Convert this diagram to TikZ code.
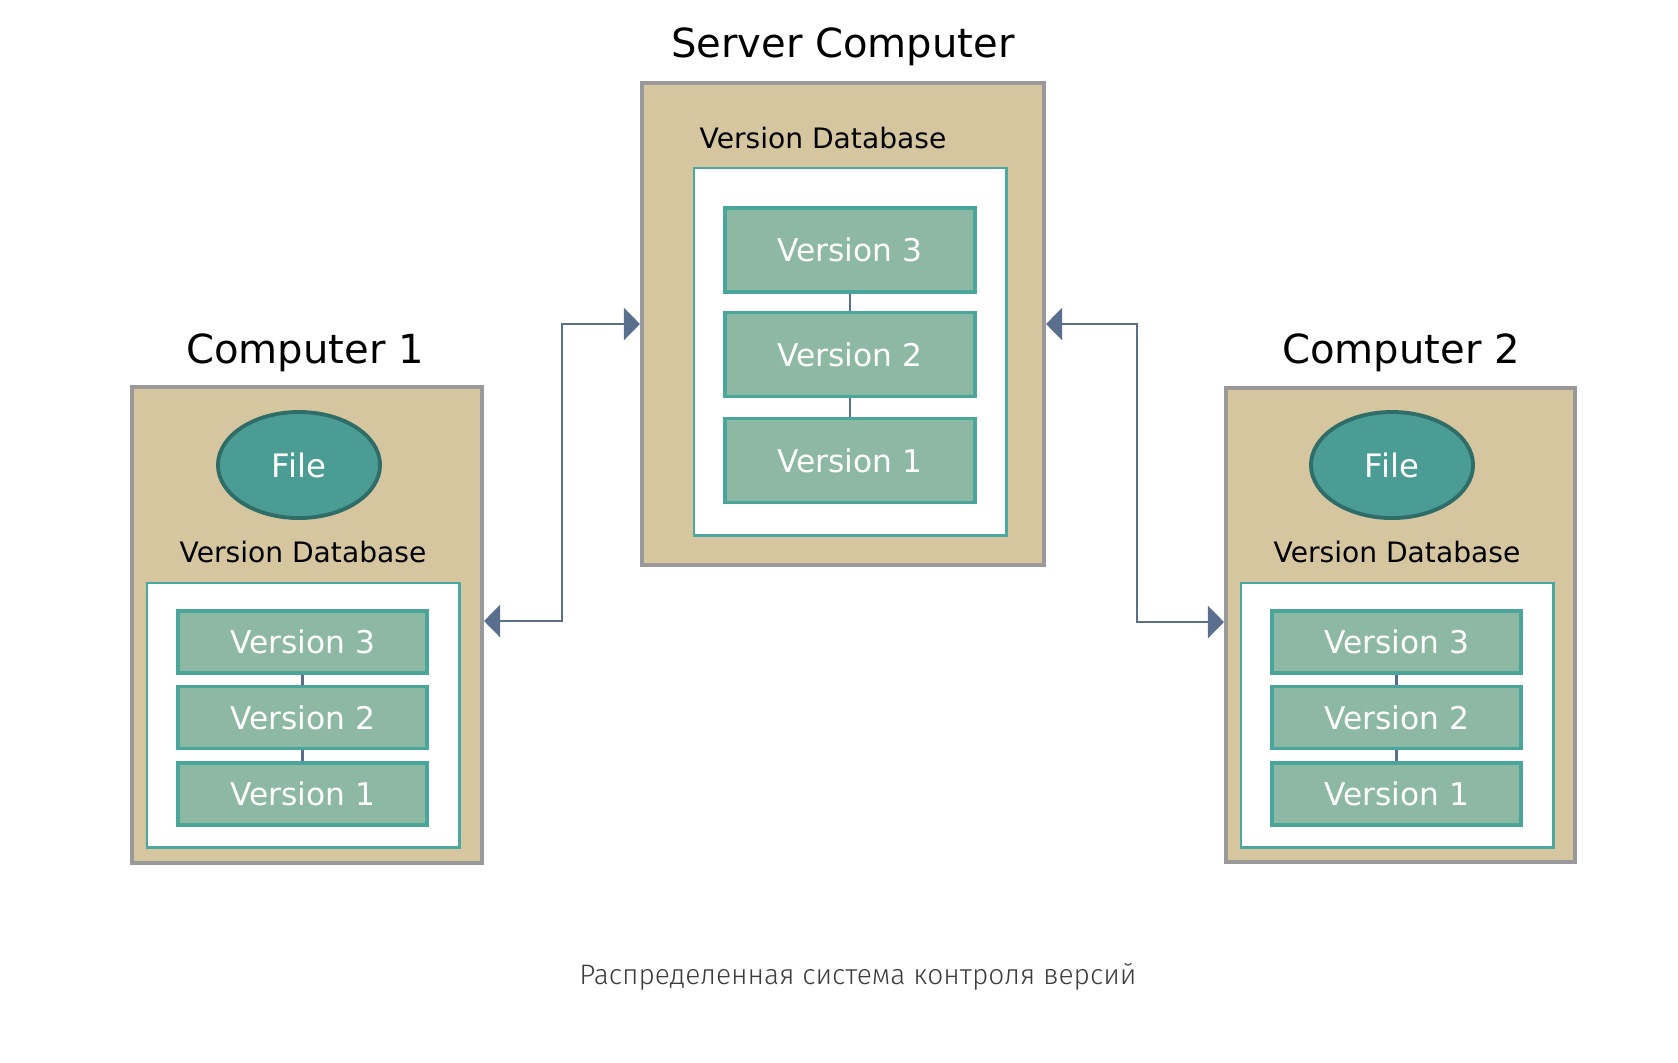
\documentclass[tikz,border=0pt]{standalone}
\usepackage{fontspec}
\setmainfont{DejaVu Sans}
\newfontfamily\captionfont{Fira Sans}[UprightFont=* Light]
\usetikzlibrary{arrows.meta,shapes.geometric,positioning}

\definecolor{machinetan}{RGB}{214,198,160}
\definecolor{boxgray}{RGB}{153,153,153}
\definecolor{storeteal}{RGB}{74,168,160}
\definecolor{versionfill}{RGB}{141,184,163}
\definecolor{versionedge}{RGB}{74,165,155}
\definecolor{filefill}{RGB}{74,156,148}
\definecolor{fileedge}{RGB}{47,110,104}
\definecolor{linkblue}{RGB}{90,110,142}
\definecolor{captiongray}{RGB}{60,60,60}

\tikzset{
  machine/.style={draw=boxgray, fill=machinetan, line width=1.1pt, inner sep=0pt},
  machinetitle/.style={font=\fontsize{11.4}{13}\selectfont, anchor=base},
  storelabel/.style={font=\fontsize{8}{10}\selectfont, anchor=base},
  store/.style={draw=storeteal, fill=white, line width=0.8pt, inner sep=0pt, minimum width=3.12cm},
  version/.style={draw=versionedge, fill=versionfill, line width=1.1pt, text=white,
    font=\fontsize{8.9}{10}\selectfont, minimum width=2.49cm, minimum height=0.62cm, inner sep=0pt},
  file/.style={ellipse, draw=fileedge, fill=filefill, line width=1.1pt, text=white,
    font=\fontsize{9.2}{11}\selectfont, minimum width=1.62cm, minimum height=1.06cm, inner sep=0pt},
  chain/.style={draw=linkblue, line width=0.8pt},
  link/.style={draw=linkblue, line width=0.8pt,
    {Triangle[length=0.16cm,width=0.32cm]}-{Triangle[length=0.16cm,width=0.32cm]}}
}

\begin{document}
\begin{tikzpicture}[x=0.01cm, y=-0.01cm]
  \useasboundingbox (0,0) rectangle (1678,1062);

  % server computer
  \node[machine, minimum width=4.02cm, minimum height=4.82cm] (server) at (843,324) {};
  \node[machinetitle] (servertitle) at (843,57) {Server Computer};
  \node[storelabel] (serverlabel) at (823,148) {Version Database};
  \node[store, minimum height=3.67cm] (serverstore) at (850,351.5) {};
  \node[version, minimum height=0.84cm] (sv3) at (850,250) {Version 3};
  \node[version, minimum height=0.84cm] (sv2) at (850,354.5) {Version 2};
  \node[version, minimum height=0.84cm] (sv1) at (850,460.5) {Version 1};
  \draw[chain] (sv3) -- (sv2);
  \draw[chain] (sv2) -- (sv1);

  % computer 1
  \node[machine, minimum width=3.5cm, minimum height=4.76cm] (comp1) at (307,625) {};
  \node[machinetitle] (comp1title) at (305,363) {Computer 1};
  \node[file] (file1) at (299,465) {File};
  \node[storelabel] (comp1label) at (303,562) {Version Database};
  \node[store, minimum height=2.64cm] (comp1store) at (303,715) {};
  \node[version] (av3) at (302.5,642) {Version 3};
  \node[version] (av2) at (302.5,717.5) {Version 2};
  \node[version] (av1) at (302.5,794) {Version 1};
  \draw[chain] (av3) -- (av2);
  \draw[chain] (av2) -- (av1);

  % computer 2
  \node[machine, minimum width=3.49cm, minimum height=4.74cm] (comp2) at (1400.5,625) {};
  \node[machinetitle] (comp2title) at (1401,363) {Computer 2};
  \node[file] (file2) at (1392,465) {File};
  \node[storelabel] (comp2label) at (1397,562) {Version Database};
  \node[store, minimum height=2.64cm] (comp2store) at (1397,715) {};
  \node[version] (bv3) at (1396.5,642) {Version 3};
  \node[version] (bv2) at (1396.5,717.5) {Version 2};
  \node[version] (bv1) at (1396.5,794) {Version 1};
  \draw[chain] (bv3) -- (bv2);
  \draw[chain] (bv2) -- (bv1);

  % sync links
  \draw[link] ([yshift=0.04cm]comp1.east) -- ++(78,0) |- (server.west);
  \draw[link] (server.east) -- ++(91,0) |- ([yshift=0.03cm]comp2.west);

  \node[font=\captionfont\fontsize{8}{10}\selectfont, text=captiongray, anchor=base] (caption)
    at (858,984) {Распределенная система контроля версий};
\end{tikzpicture}
\end{document}
